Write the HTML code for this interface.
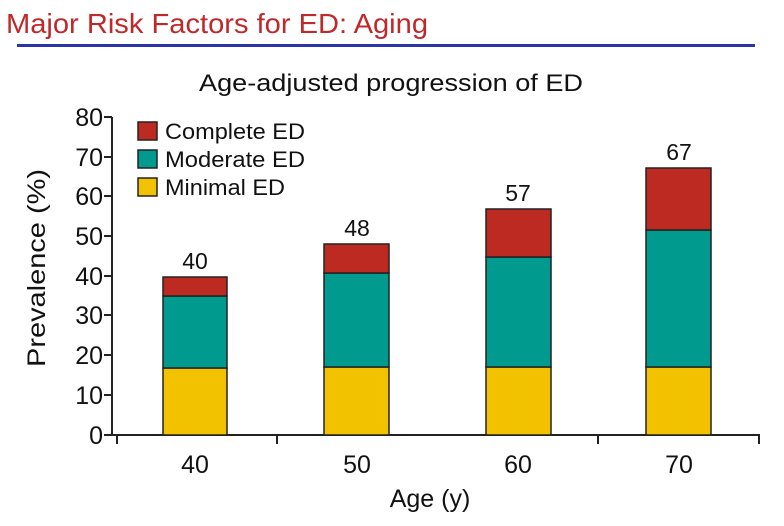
<!DOCTYPE html>
<html><head><meta charset="utf-8"><style>html,body{margin:0;padding:0;background:#fff;}svg{display:block}</style></head>
<body>
<svg width="784" height="526" viewBox="0 0 784 526" xmlns="http://www.w3.org/2000/svg" font-family="Liberation Sans, Arial, sans-serif">
<rect width="784" height="526" fill="#fff"/>
<text x="6" y="33" font-size="28" fill="#c0282a" textLength="422" lengthAdjust="spacingAndGlyphs">Major Risk Factors for ED: Aging</text>
<rect x="17" y="44" width="738" height="3" fill="#2b35a8"/>
<text x="391" y="91" font-size="24" fill="#111" text-anchor="middle" textLength="384" lengthAdjust="spacingAndGlyphs">Age-adjusted progression of ED</text>
<text transform="translate(45,268) rotate(-90)" font-size="25" fill="#111" text-anchor="middle" textLength="198" lengthAdjust="spacingAndGlyphs">Prevalence (%)</text>
<g stroke="#222" stroke-width="2" fill="none">
<line x1="112" y1="117" x2="112" y2="435"/>
<line x1="111" y1="435" x2="760" y2="435"/>
<line x1="104" y1="117" x2="112" y2="117"/>
<line x1="104" y1="157" x2="112" y2="157"/>
<line x1="104" y1="196" x2="112" y2="196"/>
<line x1="104" y1="236" x2="112" y2="236"/>
<line x1="104" y1="276" x2="112" y2="276"/>
<line x1="104" y1="315" x2="112" y2="315"/>
<line x1="104" y1="355" x2="112" y2="355"/>
<line x1="104" y1="395" x2="112" y2="395"/>
<line x1="104" y1="435" x2="112" y2="435"/>
<line x1="117" y1="435" x2="117" y2="444"/>
<line x1="277" y1="435" x2="277" y2="444"/>
<line x1="598" y1="435" x2="598" y2="444"/>
<line x1="759" y1="435" x2="759" y2="444"/>
</g>
<g font-size="25" fill="#111" text-anchor="end">
<text x="103" y="126">80</text><text x="103" y="166">70</text><text x="103" y="205">60</text>
<text x="103" y="245">50</text><text x="103" y="285">40</text><text x="103" y="324">30</text>
<text x="103" y="364">20</text><text x="103" y="404">10</text><text x="103" y="444">0</text>
</g>
<g stroke="#222" stroke-width="1.5">
<rect x="163" y="368" width="64" height="67" fill="#f2c200"/>
<rect x="163" y="296" width="64" height="72" fill="#009b8e"/>
<rect x="163" y="277" width="64" height="19" fill="#bc2a22"/>
<rect x="324" y="367" width="65" height="68" fill="#f2c200"/>
<rect x="324" y="273" width="65" height="94" fill="#009b8e"/>
<rect x="324" y="244" width="65" height="29" fill="#bc2a22"/>
<rect x="486" y="367" width="65" height="68" fill="#f2c200"/>
<rect x="486" y="257" width="65" height="110" fill="#009b8e"/>
<rect x="486" y="209" width="65" height="48" fill="#bc2a22"/>
<rect x="646" y="367" width="65" height="68" fill="#f2c200"/>
<rect x="646" y="230" width="65" height="137" fill="#009b8e"/>
<rect x="646" y="168" width="65" height="62" fill="#bc2a22"/>
<rect x="138" y="122" width="19" height="18" fill="#bc2a22"/>
<rect x="138" y="150" width="19" height="18" fill="#009b8e"/>
<rect x="138" y="178" width="19" height="18" fill="#f2c200"/>
</g>
<g font-size="22" fill="#111">
<text x="165" y="139" textLength="140" lengthAdjust="spacingAndGlyphs">Complete ED</text>
<text x="165" y="167" textLength="140" lengthAdjust="spacingAndGlyphs">Moderate ED</text>
<text x="165" y="195" textLength="120" lengthAdjust="spacingAndGlyphs">Minimal ED</text>
</g>
<g font-size="23" fill="#111" text-anchor="middle">
<text x="195" y="269">40</text><text x="357" y="236">48</text>
<text x="518" y="201">57</text><text x="679" y="160">67</text>
</g>
<g font-size="25" fill="#111" text-anchor="middle">
<text x="195" y="473">40</text><text x="357" y="473">50</text>
<text x="518" y="473">60</text><text x="679" y="473">70</text>
<text x="430" y="507">Age (y)</text>
</g>
</svg>
</body></html>
